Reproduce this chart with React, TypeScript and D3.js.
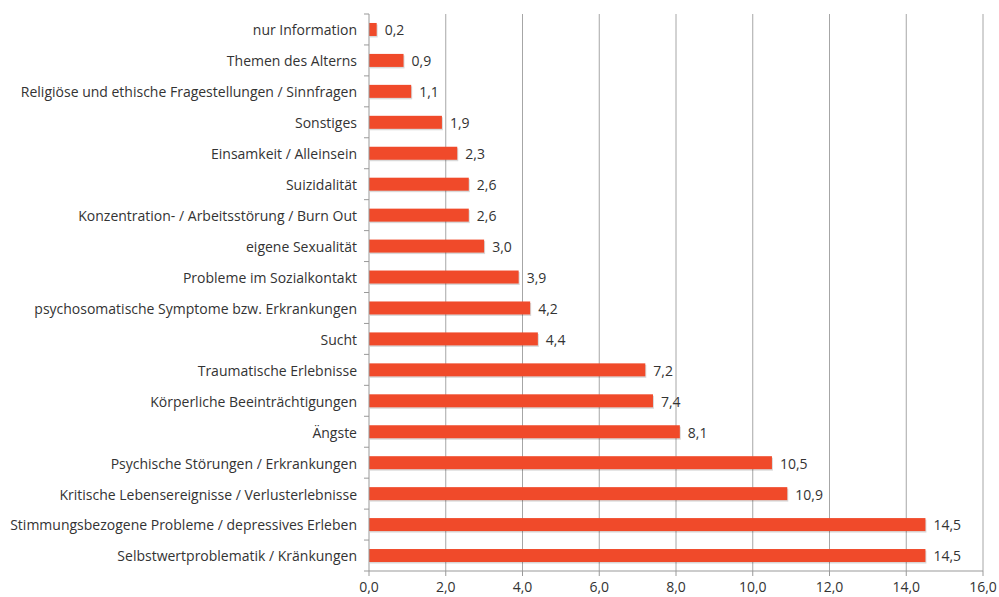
import { useEffect, useRef } from 'react';
import * as d3 from 'd3';

const categories = [
  'nur Information',
  'Themen des Alterns',
  'Religiöse und ethische Fragestellungen / Sinnfragen',
  'Sonstiges',
  'Einsamkeit / Alleinsein',
  'Suizidalität',
  'Konzentration- / Arbeitsstörung / Burn Out',
  'eigene Sexualität',
  'Probleme im Sozialkontakt',
  'psychosomatische Symptome bzw. Erkrankungen',
  'Sucht',
  'Traumatische Erlebnisse',
  'Körperliche Beeinträchtigungen',
  'Ängste',
  'Psychische Störungen / Erkrankungen',
  'Kritische Lebensereignisse / Verlusterlebnisse',
  'Stimmungsbezogene Probleme / depressives Erleben',
  'Selbstwertproblematik / Kränkungen',
];
const values = [0.2, 0.9, 1.1, 1.9, 2.3, 2.6, 2.6, 3.0, 3.9, 4.2, 4.4, 7.2, 7.4, 8.1, 10.5, 10.9, 14.5, 14.5];
const xTicks = [0, 2, 4, 6, 8, 10, 12, 14, 16];

const fmt = (v: number) => v.toFixed(1).replace('.', ',');

export default function App() {
  const svgRef = useRef<SVGSVGElement>(null);

  useEffect(() => {
    const svg = d3.select(svgRef.current);
    svg.selectAll('*').remove();

    const width = 999;
    const height = 597;
    const margin = { top: 14, right: 16, bottom: 26, left: 369 };
    const innerW = width - margin.left - margin.right;
    const innerH = height - margin.top - margin.bottom;
    const font = '"Open Sans", "Noto Sans", sans-serif';
    const fs = 14;

    const x = d3.scaleLinear().domain([0, 16]).range([0, innerW]);
    const y = d3.scaleBand().domain(categories).range([0, innerH]).paddingInner(0.58).paddingOuter(0.29);

    const g = svg.append('g').attr('transform', `translate(${margin.left},${margin.top})`);

    // gridlines
    g.selectAll('.grid')
      .data(xTicks.filter(t => t > 0))
      .enter()
      .append('line')
      .attr('x1', d => x(d))
      .attr('x2', d => x(d))
      .attr('y1', 0)
      .attr('y2', innerH)
      .attr('stroke', '#a6a6a6')
      .attr('stroke-width', 1);

    // bar shadows
    g.selectAll('.shadow')
      .data(values)
      .enter()
      .append('rect')
      .attr('x', 1)
      .attr('y', (d, i) => y(categories[i])! + 1.5)
      .attr('width', d => x(d))
      .attr('height', y.bandwidth())
      .attr('fill', '#000')
      .attr('opacity', 0.15);

    // bars
    g.selectAll('.bar')
      .data(values)
      .enter()
      .append('rect')
      .attr('x', 0)
      .attr('y', (d, i) => y(categories[i])!)
      .attr('width', d => x(d))
      .attr('height', y.bandwidth())
      .attr('fill', '#f04a2a');

    // value labels
    g.selectAll('.val')
      .data(values)
      .enter()
      .append('text')
      .attr('x', d => x(d) + 8)
      .attr('y', (d, i) => y(categories[i])! + y.bandwidth() / 2 + 1)
      .attr('dy', '0.35em')
      .attr('font-family', font)
      .attr('font-size', fs)
      .attr('fill', '#333')
      .text(d => fmt(d));

    // left axis
    const step = innerH / categories.length;
    g.append('line')
      .attr('x1', 0).attr('x2', 0).attr('y1', 0).attr('y2', innerH)
      .attr('stroke', '#999');
    g.selectAll('.ltick')
      .data(d3.range(categories.length + 1))
      .enter()
      .append('line')
      .attr('x1', -5).attr('x2', 0)
      .attr('y1', d => d * step).attr('y2', d => d * step)
      .attr('stroke', '#999');
    g.selectAll('.cat')
      .data(categories)
      .enter()
      .append('text')
      .attr('x', -12)
      .attr('y', d => y(d)! + y.bandwidth() / 2 + 1)
      .attr('dy', '0.35em')
      .attr('text-anchor', 'end')
      .attr('font-family', font)
      .attr('font-size', fs)
      .attr('fill', '#333')
      .text(d => d);

    // bottom axis
    g.append('line')
      .attr('x1', 0).attr('x2', innerW).attr('y1', innerH).attr('y2', innerH)
      .attr('stroke', '#999');
    g.selectAll('.btick')
      .data(xTicks)
      .enter()
      .append('line')
      .attr('x1', d => x(d)).attr('x2', d => x(d))
      .attr('y1', innerH).attr('y2', innerH + 5)
      .attr('stroke', '#999');
    g.selectAll('.xlab')
      .data(xTicks)
      .enter()
      .append('text')
      .attr('x', d => x(d))
      .attr('y', innerH + 21)
      .attr('text-anchor', 'middle')
      .attr('font-family', font)
      .attr('font-size', fs)
      .attr('fill', '#333')
      .text(d => fmt(d));
  }, []);

  return (
    <div style={{ position: 'absolute', left: 0, top: 0, width: 999, height: 597, background: '#fff' }}>
      <svg ref={svgRef} width={999} height={597} />
    </div>
  );
}
